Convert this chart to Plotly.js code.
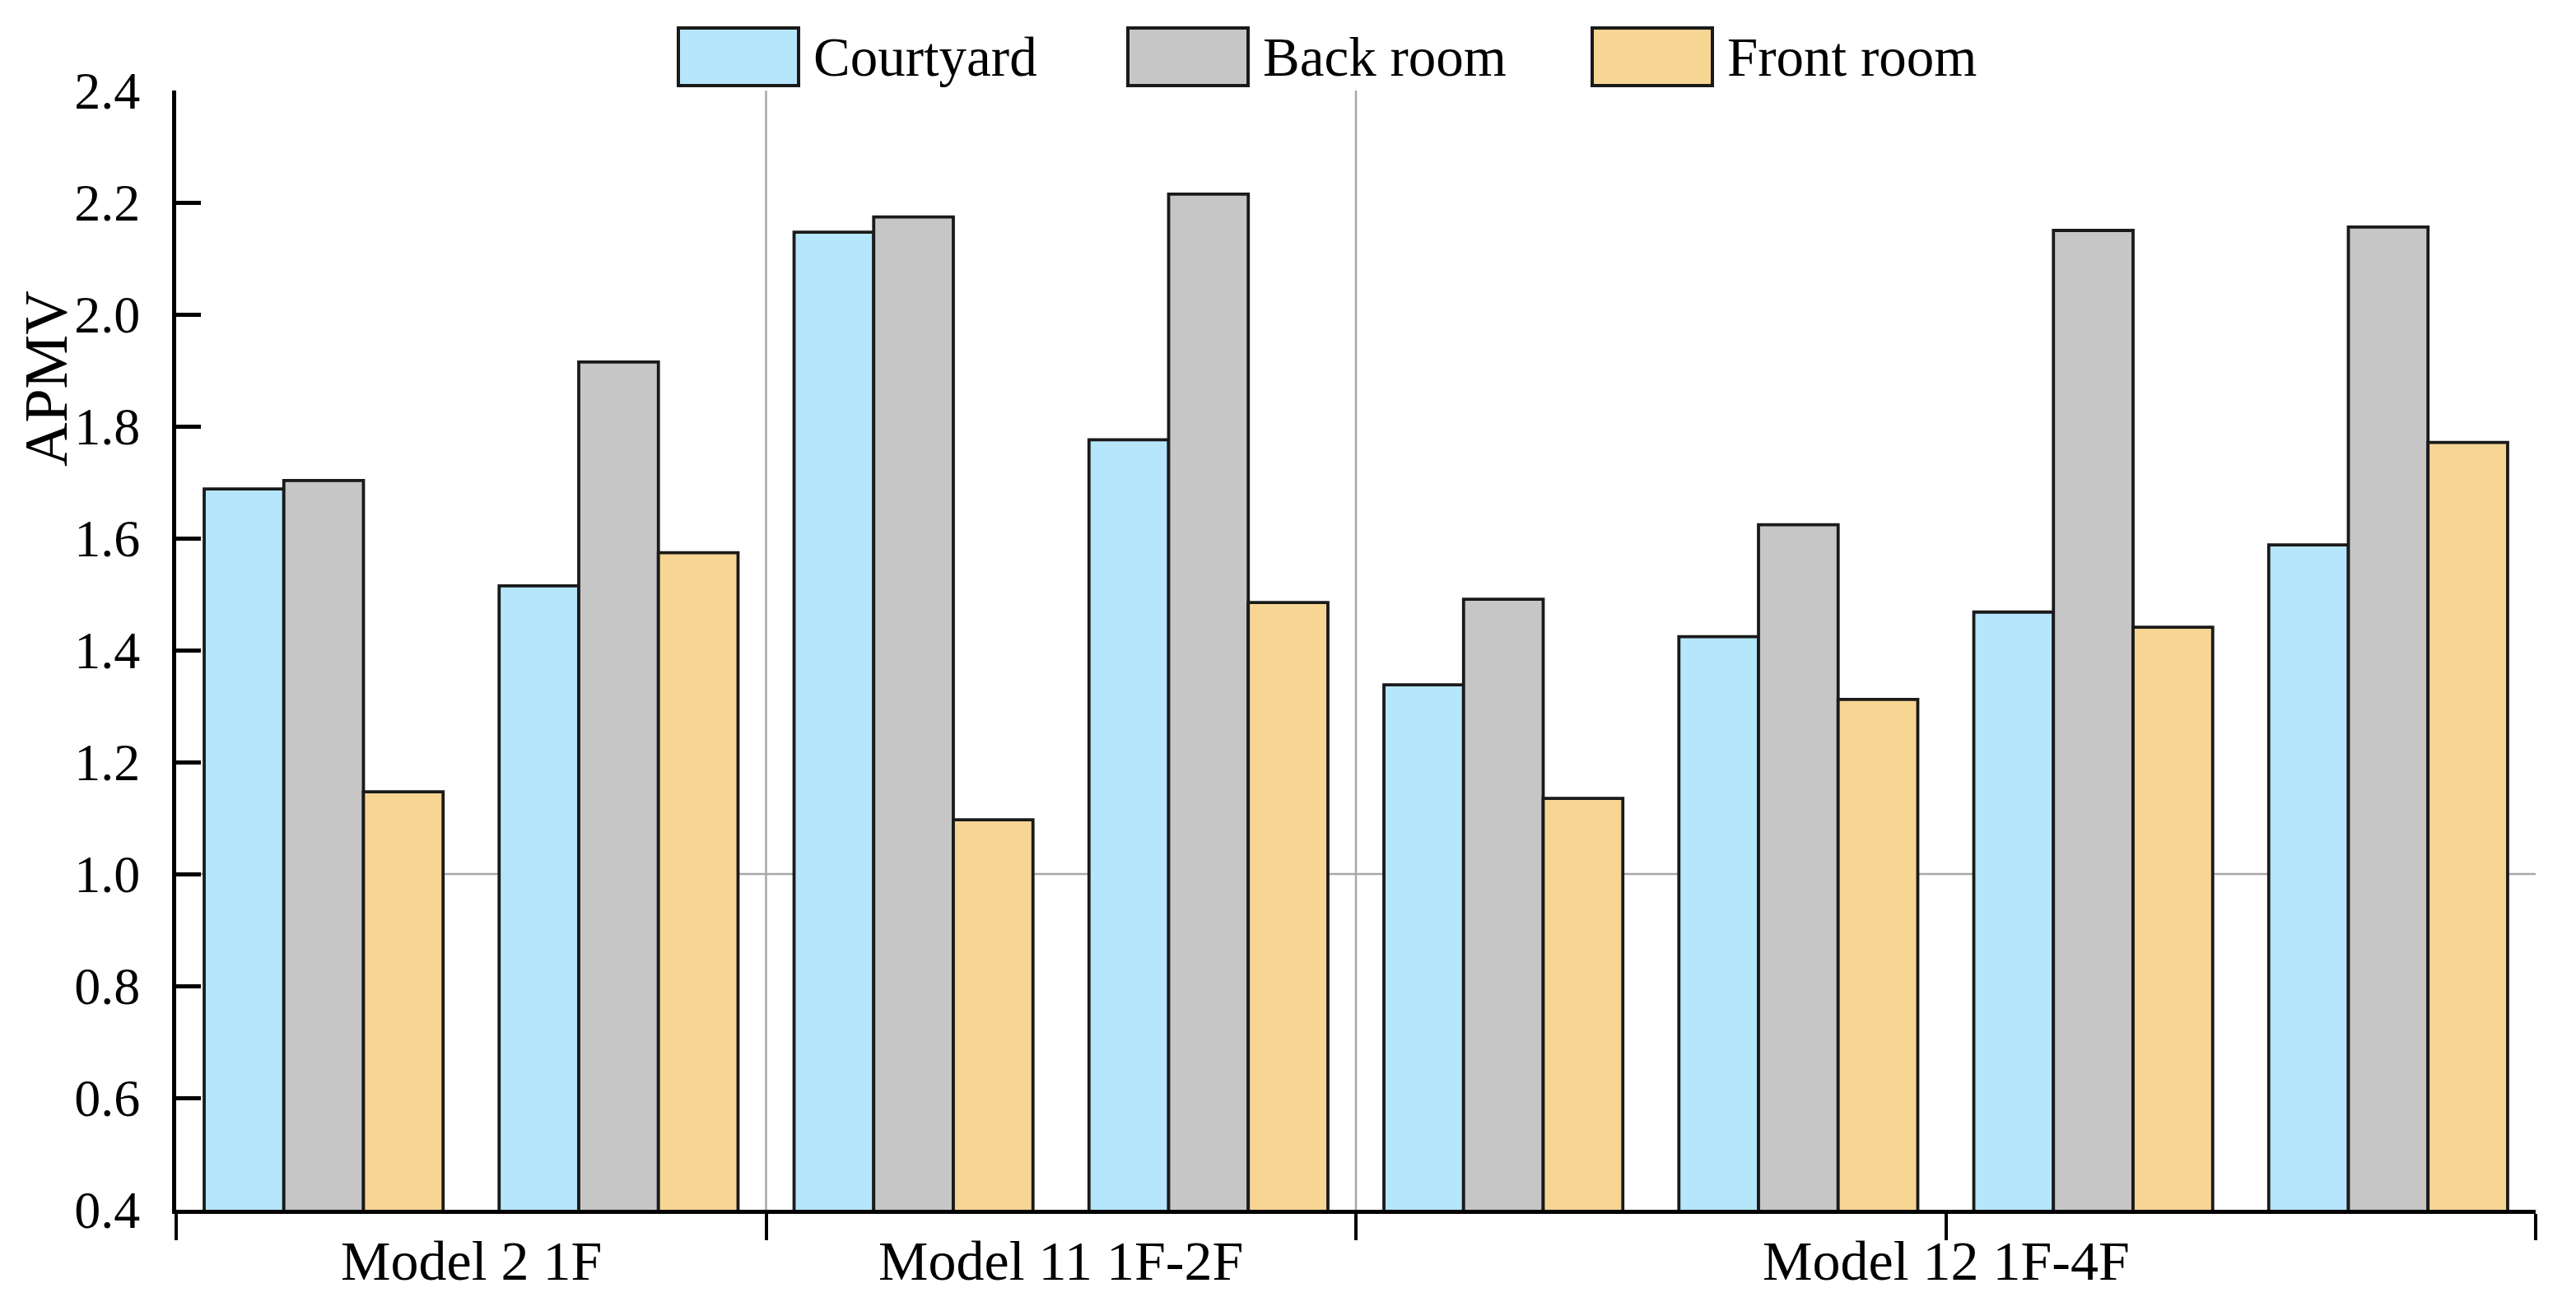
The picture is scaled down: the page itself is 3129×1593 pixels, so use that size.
<!DOCTYPE html>
<html>
<head>
<meta charset="utf-8">
<script src="https://cdn.plot.ly/plotly-3.0.1.min.js"></script>
<style>html,body{margin:0;padding:0;background:#fff;}#chart{width:3129px;height:1593px;}</style>
</head>
<body>
<div id="chart"></div>
<script>
// ---- data ----
const groupIndex = [0, 1, 2, 3, 4, 5, 6, 7];
const seriesNames = ['Courtyard', 'Back room', 'Front room'];
const courtyard = [1.688, 1.515, 2.147, 1.776, 1.338, 1.424, 1.468, 1.588];
const backRoom  = [1.703, 1.915, 2.174, 2.215, 1.491, 1.624, 2.150, 2.156];
const frontRoom = [1.147, 1.574, 1.097, 1.485, 1.135, 1.312, 1.441, 1.771];
const modelLabels = ['Model 2 1F', 'Model 11 1F-2F', 'Model 12 1F-4F'];
const modelSizes = [2, 2, 4];
const yTickVals = [0.4, 0.6, 0.8, 1.0, 1.2, 1.4, 1.6, 1.8, 2.0, 2.2, 2.4];
const yTitle = 'APMV';

// ---- styles ----
const colors = ['#B5E6FB', '#C6C6C6', '#F7D593'];
const FONT = 'Liberation Serif, Times New Roman, serif';
const W = 3129, H = 1593;
const M = {l: 214, r: 49, t: 110, b: 123};
const plotW = W - M.l - M.r, plotH = H - M.t - M.b;
const px2x = p => (p - M.l) / plotW;
const px2y = p => (H - M.b - p) / plotH;

const values = [courtyard, backRoom, frontRoom];
const traces = values.map((v, i) => ({
  type: 'bar', x: groupIndex, y: v, name: seriesNames[i],
  marker: {color: colors[i], line: {color: '#1a1a1a', width: 3.8}},
  showlegend: false, hoverinfo: 'skip'
}));

// group boundaries and centres
const bounds = [-0.5];
modelSizes.forEach(s => bounds.push(bounds[bounds.length - 1] + s));
const centres = modelSizes.map((s, i) => bounds[i] + s / 2);
const xTicks = [];
for (let t = -0.5; t <= groupIndex.length - 0.5; t += 2) xTicks.push(t);

const shapes = [];
const annotations = [];
// horizontal reference line at 1.0
shapes.push({type: 'line', xref: 'x', yref: 'y', x0: -0.5, x1: groupIndex.length - 0.5, y0: 1.0, y1: 1.0,
  line: {color: '#a8a8a8', width: 2.5}, layer: 'below'});
// model separators
bounds.slice(1, -1).forEach(b => shapes.push({type: 'line', xref: 'x', yref: 'paper', x0: b, x1: b, y0: 0, y1: 1,
  line: {color: '#a8a8a8', width: 2.5}, layer: 'below'}));
// model labels
modelLabels.forEach((lab, i) => annotations.push({text: lab, xref: 'x', yref: 'paper', x: centres[i], y: px2y(1532),
  xanchor: 'center', yanchor: 'middle', showarrow: false, font: {family: FONT, size: 68, color: '#000'}}));
// y title
annotations.push({text: yTitle, xref: 'paper', yref: 'paper', x: px2x(56), y: px2y(460), textangle: -90,
  xanchor: 'center', yanchor: 'middle', showarrow: false, font: {family: FONT, size: 74, color: '#000'}});
// custom legend
const legendBoxX = [824, 1370, 1934];
const boxW = 146, boxTop = 34, boxBot = 104;
seriesNames.forEach((n, i) => {
  shapes.push({type: 'rect', xref: 'paper', yref: 'paper', x0: px2x(legendBoxX[i]), x1: px2x(legendBoxX[i] + boxW),
    y0: px2y(boxBot), y1: px2y(boxTop), fillcolor: colors[i], line: {color: '#1a1a1a', width: 4}});
  annotations.push({text: n, xref: 'paper', yref: 'paper', x: px2x(legendBoxX[i] + boxW + 16), y: px2y(69),
    xanchor: 'left', yanchor: 'middle', showarrow: false, font: {family: FONT, size: 67, color: '#000'}});
});

const layout = {
  width: W, height: H, margin: M,
  paper_bgcolor: '#fff', plot_bgcolor: '#fff',
  font: {family: FONT, size: 64, color: '#000'},
  barmode: 'group', bargap: 0.19, bargroupgap: 0,
  xaxis: {range: [-0.5, groupIndex.length - 0.5], tickmode: 'array', tickvals: xTicks, ticktext: xTicks.map(() => ''),
    ticks: 'outside', ticklen: 32, tickwidth: 4, tickcolor: '#000', showline: true, linewidth: 5, linecolor: '#000',
    showgrid: false, zeroline: false, fixedrange: true},
  yaxis: {range: [0.4, 2.4], tickmode: 'array', tickvals: yTickVals, ticktext: yTickVals.map(v => v.toFixed(1)),
    ticks: 'inside', ticklen: 30, tickwidth: 5, tickcolor: '#000', showline: true, linewidth: 5, linecolor: '#000',
    showgrid: false, zeroline: false, ticklabelstandoff: 26, tickfont: {size: 64}},
  shapes: shapes, annotations: annotations
};

Plotly.newPlot('chart', traces, layout, {displayModeBar: false, staticPlot: true});
</script>
</body>
</html>
